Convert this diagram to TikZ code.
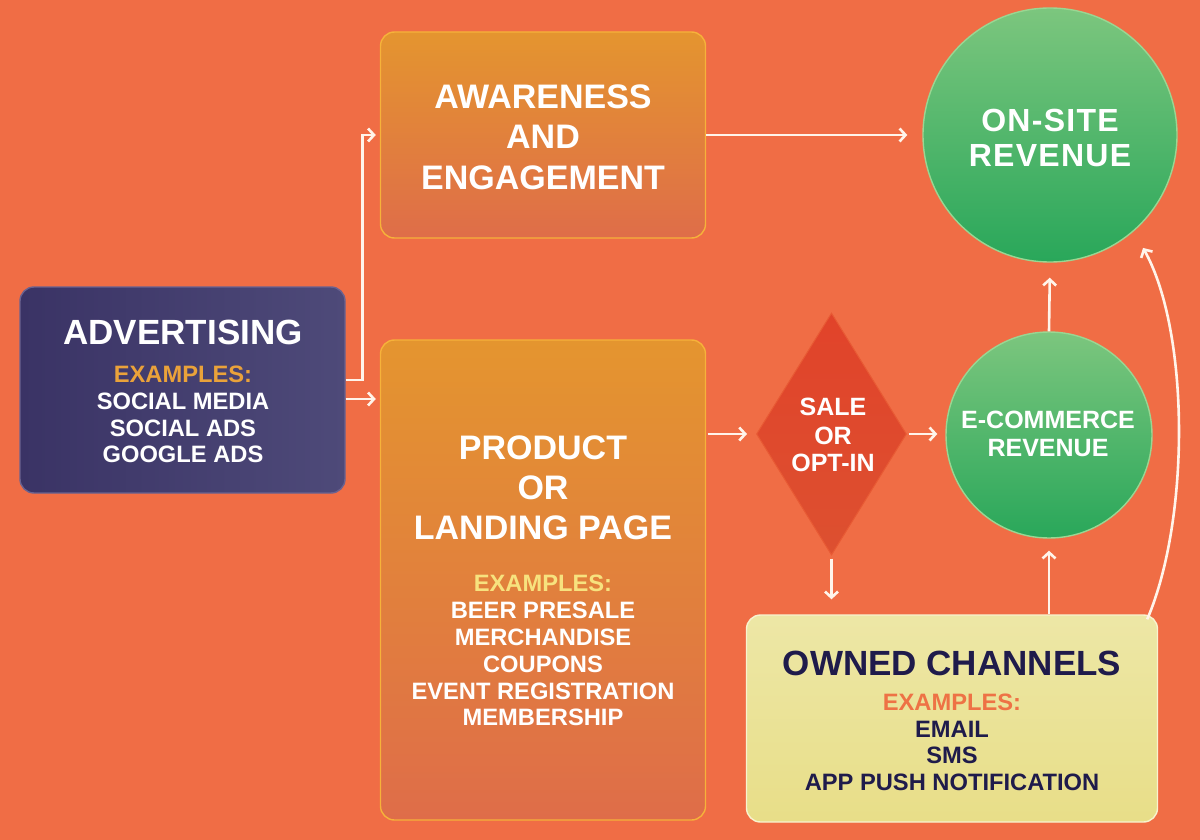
\documentclass[tikz,border=0pt]{standalone}
\usepackage{fontspec}
\setmainfont{Liberation Sans}
\newfontfamily\spacedfont[LetterSpace=4]{Liberation Sans}
\usetikzlibrary{arrows.meta,shapes.geometric,calc}
\definecolor{bg}{HTML}{F06D45}
\definecolor{advL}{HTML}{3A3365}
\definecolor{advR}{HTML}{4E4A79}
\definecolor{advB}{HTML}{6A6290}
\definecolor{orT}{HTML}{E4952F}
\definecolor{orB}{HTML}{DF6D49}
\definecolor{orD}{HTML}{F6B23A}
\definecolor{diT}{HTML}{E1432A}
\definecolor{diB}{HTML}{DD5030}
\definecolor{diD}{HTML}{E85A34}
\definecolor{grT}{HTML}{7CC67E}
\definecolor{grB}{HTML}{29A75A}
\definecolor{grD}{HTML}{9AD692}
\definecolor{owT}{HTML}{EDE7A6}
\definecolor{owB}{HTML}{E8DE88}
\definecolor{owD}{HTML}{F8F3CF}
\definecolor{navy}{HTML}{1F1B4B}
\definecolor{advex}{HTML}{EAA23A}
\definecolor{prodex}{HTML}{F7E27E}
\definecolor{ownex}{HTML}{EE7245}
\definecolor{arrc}{HTML}{FFF4EA}
\begin{document}
\begin{tikzpicture}[x=1pt,y=-1pt,
  box/.style={rectangle,rounded corners=14pt,inner sep=0pt,line width=1.4pt},
  advbox/.style={box,left color=advL,right color=advR,draw=advB},
  orbox/.style={box,top color=orT,bottom color=orB,draw=orD},
  ownbox/.style={box,top color=owT,bottom color=owB,draw=owD},
  diam/.style={diamond,inner sep=0pt,top color=diT,bottom color=diB,draw=diD,line width=1pt},
  gcirc/.style={circle,inner sep=0pt,top color=grT,bottom color=grB,draw=grD,line width=1.4pt},
  t35/.style={inner sep=0pt,text height=25pt,text depth=0pt,font=\bfseries\fontsize{35}{40}\selectfont,text=white},
  t34/.style={inner sep=0pt,text height=24.3pt,text depth=0pt,font=\bfseries\fontsize{34}{40}\selectfont,text=white},
  t32/.style={inner sep=0pt,text height=22.9pt,text depth=0pt,font=\spacedfont\bfseries\fontsize{32}{40}\selectfont,text=white},
  t25/.style={inner sep=0pt,text height=17.9pt,text depth=0pt,font=\bfseries\fontsize{25}{30}\selectfont,text=white},
  t24/.style={inner sep=0pt,text height=17pt,text depth=0pt,font=\bfseries\fontsize{23.7}{28}\selectfont,text=white},
  arr/.style={draw=arrc,line width=2.6pt,-{Straight Barb[length=6pt,width=13pt]}}
]
\fill[bg] (0,0) rectangle (1200,840);
\useasboundingbox (0,0) rectangle (1200,840);

% shapes
\node[advbox,minimum width=325pt,minimum height=206pt] (adv) at (182.5,390) {};
\node[orbox,minimum width=325pt,minimum height=206pt] (aw) at (543,135) {};
\node[orbox,minimum width=325pt,minimum height=480pt] (prod) at (543,580) {};
\node[diam,minimum width=150pt,minimum height=242pt] (dia) at (831.5,434) {};
\node[gcirc,minimum size=206pt] (ecom) at (1049,435) {};
\node[gcirc,minimum size=254pt] (onsite) at (1050,135) {};
\node[ownbox,minimum width=411pt,minimum height=207pt] (own) at (952,718.5) {};

% advertising text
\node[t35] (advT) at (183,332) {ADVERTISING};
\node[t24,text=advex] (advE) at (183,374) {EXAMPLES:};
\node[t24] (advL1) at (183,401) {SOCIAL MEDIA};
\node[t24] (advL2) at (183,428) {SOCIAL ADS};
\node[t24] (advL3) at (183,454) {GOOGLE ADS};

% awareness text
\node[t34] (awL1) at (543,96) {AWARENESS};
\node[t34] (awL2) at (543,136.5) {AND};
\node[t34] (awL3) at (543,177) {ENGAGEMENT};

% product text
\node[t34] (prL1) at (543,447) {PRODUCT};
\node[t34] (prL2) at (543,487) {OR};
\node[t34] (prL3) at (543,527) {LANDING PAGE};
\node[t24,text=prodex] (prE) at (543,583) {EXAMPLES:};
\node[t24] (prI1) at (543,610) {BEER PRESALE};
\node[t24] (prI2) at (543,637) {MERCHANDISE};
\node[t24] (prI3) at (543,663.5) {COUPONS};
\node[t24] (prI4) at (543,691) {EVENT REGISTRATION};
\node[t24] (prI5) at (543,717) {MEMBERSHIP};

% diamond text
\node[t25] (diL1) at (833,407) {SALE};
\node[t25] (diL2) at (833,436) {OR};
\node[t25] (diL3) at (833,463) {OPT-IN};

% e-commerce text
\node[t25] (ecL1) at (1048,420) {E-COMMERCE};
\node[t25] (ecL2) at (1048,448) {REVENUE};

% on-site text
\node[t32] (osL1) at (1050,120) {ON-SITE};
\node[t32] (osL2) at (1050,155) {REVENUE};

% owned channels text
\node[t35,text=navy] (owT1) at (952,663) {OWNED CHANNELS};
\node[t24,text=ownex] (owE) at (952,702) {EXAMPLES:};
\node[t24,text=navy] (owI1) at (952,728.5) {EMAIL};
\node[t24,text=navy] (owI2) at (952,755) {SMS};
\node[t24,text=navy] (owI3) at (952,782) {APP PUSH NOTIFICATION};

% connectors
\coordinate (e1) at ($(adv.east)+(0,-10)$);
\coordinate (e2) at ($(adv.east)+(0,9)$);
\draw[arr,shorten >=4pt] (e1) -- ++(17,0) |- (aw.west);
\draw[arr,shorten >=4pt] (e2) -- (e2 -| prod.west);
\draw[arr,shorten >=15pt] (aw.east) -- (onsite.west);
\draw[arr,shorten <=1.5pt,shorten >=9pt] (dia.west -| prod.east) -- (dia.west);
\draw[arr,shorten <=1.5pt,shorten >=8pt] (dia.east) -- (dia.east -| ecom.west);
\draw[arr,shorten <=3pt,shorten >=15pt] (dia.south) -- (dia.south |- own.north);
\draw[arr,shorten >=12pt] (own.north -| ecom.south) -- (ecom.south);
\draw[arr,shorten >=15pt] (ecom.north) -- (onsite.south);
\coordinate (cs) at ($(own.north east)+(-11,5)$);
\draw[arr,shorten >=19pt] (cs) .. controls +(43,-100) and +(56,100) .. (onsite.-49);
\end{tikzpicture}
\end{document}
